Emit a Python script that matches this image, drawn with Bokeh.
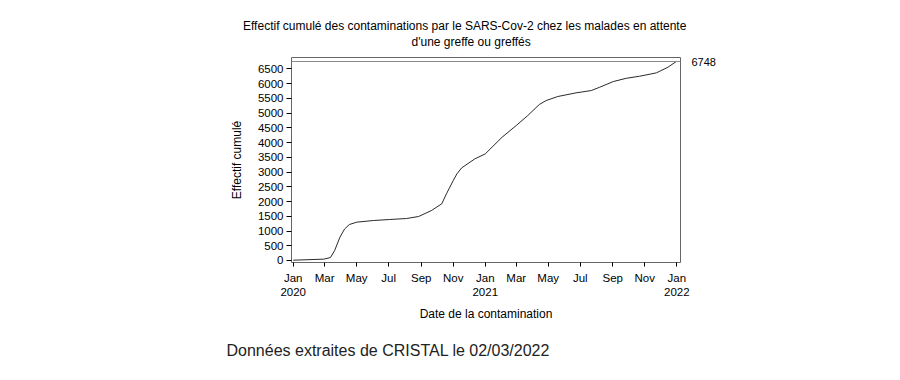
from datetime import timedelta
import pandas as pd
from bokeh.plotting import figure
from bokeh.models import (ColumnDataSource, Range1d, FixedTicker, LinearAxis, Span, Title)
from bokeh.embed import file_html
from bokeh.resources import INLINE

# ---- data ----
dates = ["2020-01-01", "2020-02-28", "2020-03-12", "2020-03-20", "2020-03-30", "2020-04-08",
         "2020-04-17", "2020-05-01", "2020-06-02", "2020-07-03", "2020-08-04", "2020-08-27",
         "2020-09-20", "2020-10-10", "2020-10-19", "2020-11-01", "2020-11-08", "2020-11-17",
         "2020-12-12", "2021-01-01", "2021-02-02", "2021-03-01", "2021-03-23", "2021-04-14",
         "2021-04-27", "2021-05-19", "2021-06-23", "2021-07-22", "2021-08-07", "2021-09-02",
         "2021-09-27", "2021-10-22", "2021-11-23", "2021-12-15", "2021-12-31"]
cumul = [10, 45, 100, 340, 790, 1070,
         1220, 1300, 1356, 1390, 1424, 1492,
         1690, 1920, 2260, 2712, 2940, 3140,
         3445, 3615, 4180, 4577, 4915, 5290,
         5424, 5560, 5685, 5763, 5876, 6068,
         6180, 6248, 6363, 6553, 6748]
final_total = 6748

tick_dates = ["2020-01-01", "2020-03-01", "2020-05-01", "2020-07-01", "2020-09-01", "2020-11-01",
              "2021-01-01", "2021-03-01", "2021-05-01", "2021-07-01", "2021-09-01", "2021-11-01",
              "2022-01-01"]
tick_labels = ["Jan\n2020", "Mar", "May", "Jul", "Sep", "Nov",
               "Jan\n2021", "Mar", "May", "Jul", "Sep", "Nov", "Jan\n2022"]
y_ticks = [0, 500, 1000, 1500, 2000, 2500, 3000, 3500, 4000, 4500, 5000, 5500, 6000, 6500]

title_lines = ["Effectif cumulé des contaminations par le SARS-Cov-2 chez les malades en attente",
               "d'une greffe ou greffés"]
y_label = "Effectif cumulé"
x_label = "Date de la contamination"
footer = "Données extraites de CRISTAL le 02/03/2022"

FONT = "Liberation Sans"

def to_ms(d):
    return float((pd.Timestamp(d) - pd.Timestamp("1970-01-01")) // pd.Timedelta(milliseconds=1))

src = ColumnDataSource(dict(x=pd.to_datetime(dates), y=cumul))

x0 = pd.Timestamp(tick_dates[0]) - timedelta(days=3.24)
x1 = pd.Timestamp(tick_dates[-1]) + timedelta(days=7.05)

p = figure(frame_width=389, frame_height=205, output_backend="svg", toolbar_location=None,
           x_axis_type="datetime", x_range=Range1d(x0, x1), y_range=Range1d(-68, 6884),
           min_border_left=291, min_border_right=204, min_border_top=57, min_border_bottom=102)
p.grid.visible = False
p.outline_line_color = "#666666"
p.outline_line_width = 1
p.background_fill_color = "white"
p.border_fill_color = "white"

p.line("x", "y", source=src, line_color="#2a2a2a", line_width=1)
p.add_layout(Span(location=final_total, dimension="width", line_color="#8c8c8c", line_width=1))

# x axis
xa = p.xaxis[0]
xa.ticker = FixedTicker(ticks=[to_ms(d) for d in tick_dates])
xa.major_label_overrides = {to_ms(d): lab for d, lab in zip(tick_dates, tick_labels)}
xa.axis_line_color = None
xa.major_tick_line_color = "black"
xa.major_tick_out = 4
xa.major_tick_in = 0
xa.minor_tick_line_color = None
xa.major_label_standoff = 5
xa.major_label_text_font = FONT
xa.major_label_text_font_size = "11.5px"
xa.major_label_text_color = "black"
xa.axis_label = x_label
xa.axis_label_text_font = FONT
xa.axis_label_text_font_size = "12px"
xa.axis_label_text_font_style = "normal"
xa.axis_label_text_color = "black"
xa.axis_label_standoff = 6

# y axis
ya = p.yaxis[0]
ya.ticker = FixedTicker(ticks=y_ticks)
ya.axis_line_color = None
ya.major_tick_line_color = "black"
ya.major_tick_out = 5
ya.major_tick_in = 0
ya.minor_tick_line_color = None
ya.major_label_standoff = 3
ya.major_label_text_font = FONT
ya.major_label_text_font_size = "11.5px"
ya.major_label_text_color = "black"
ya.axis_label = y_label
ya.axis_label_text_font = FONT
ya.axis_label_text_font_size = "12px"
ya.axis_label_text_font_style = "normal"
ya.axis_label_text_color = "black"
ya.axis_label_standoff = 11

# right axis with the final total
ra = LinearAxis(ticker=FixedTicker(ticks=[final_total]))
ra.axis_line_color = None
ra.major_tick_line_color = None
ra.minor_tick_line_color = None
ra.major_label_standoff = 5
ra.major_label_text_font = FONT
ra.major_label_text_font_size = "11px"
ra.major_label_text_color = "black"
p.add_layout(ra, "right")

# title lines and footer as Title objects in the side panels
t2 = Title(text=title_lines[1], align="left", offset=120, standoff=17,
           text_font=FONT, text_font_size="12px", text_font_style="normal", text_color="black")
t1 = Title(text=title_lines[0], align="left", offset=-48.5, standoff=-17,
           text_font=FONT, text_font_size="12px", text_font_style="normal", text_color="black")
p.add_layout(t2, "above")
p.add_layout(t1, "above")
ft = Title(text=footer, align="left", offset=-65, standoff=32, vertical_align="bottom",
           text_font=FONT, text_font_size="16px", text_font_style="normal", text_color="#222222")
p.add_layout(ft, "below")

open("out.html", "w").write(file_html(p, INLINE))
